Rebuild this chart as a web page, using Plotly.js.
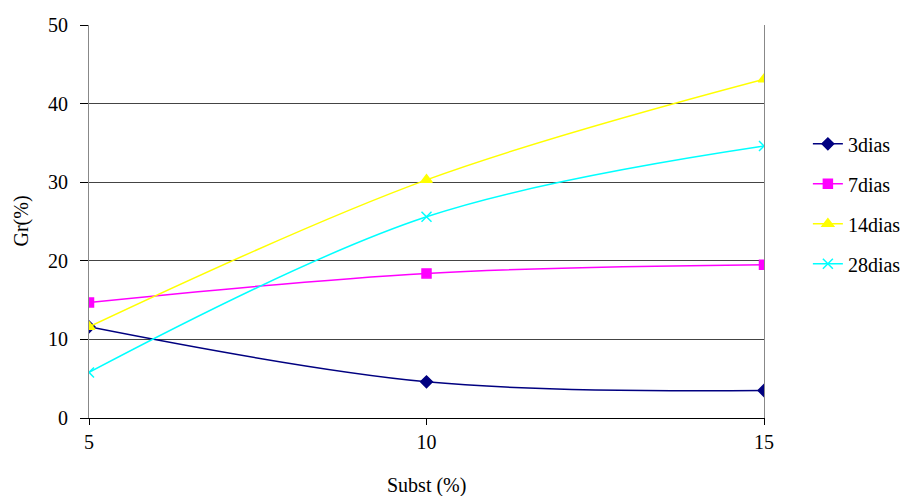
<!DOCTYPE html>
<html>
<head>
<meta charset="utf-8">
<script src="https://cdn.plot.ly/plotly-3.0.1.min.js"></script>
<style>
html,body{margin:0;padding:0;background:#fff;}
#chart{width:914px;height:496px;}
</style>
</head>
<body>
<div id="chart"></div>
<script>
const subst = [5, 10, 15];
const dias3 = [11.6, 4.6, 3.5];
const dias7 = [14.7, 18.4, 19.5];
const dias14 = [11.6, 30.3, 43.1];
const dias28 = [5.8, 25.6, 34.6];
const seriesNames = ["3dias", "7dias", "14dias", "28dias"];

const colors = ["#000080", "#FF00FF", "#FFFF00", "#00FFFF"];
const symbols = ["diamond", "square", "triangle-up", "x-thin"];
const sizes = [9, 9, 10, 10];
const data = [dias3, dias7, dias14, dias28].map((ys, i) => ({
  x: subst, y: ys, name: seriesNames[i], type: "scatter", mode: "lines+markers",
  legendgroup: "g" + i,
  line: {color: colors[i], width: 1.5, shape: "spline", smoothing: 1},
  marker: {symbol: symbols[i], size: sizes[i], color: colors[i], line: {color: colors[i], width: 1.5}}
}));

const FONT = "Liberation Serif";
const TFONT = "Times New Roman";
const layout = {
  width: 914, height: 496,
  margin: {l: 89, r: 150, t: 25, b: 78, autoexpand: false},
  paper_bgcolor: "#fff", plot_bgcolor: "#fff",
  font: {family: TFONT, size: 20, color: "#000"},
  showlegend: true,
  legend: {x: 1.065, xanchor: "left", y: 0.545, yanchor: "middle", xref: "paper",
           font: {family: TFONT, size: 20}, tracegroupgap: 11, bgcolor: "rgba(0,0,0,0)"},
  xaxis: {
    range: [5, 15], tickvals: [5, 10, 15], ticktext: ["5", "10", "15"],
    showgrid: false, zeroline: false, showline: true, linecolor: "#000", linewidth: 1,
    ticks: "outside", ticklen: 6, tickcolor: "#000",
    tickfont: {family: TFONT, size: 20}
  },
  yaxis: {
    range: [0, 50], dtick: 10, showgrid: true, gridcolor: "#444", gridwidth: 1,
    zeroline: false, showline: true, mirror: true, linecolor: "#888", linewidth: 1,
    ticks: "outside", ticklen: 8, tickcolor: "#000", ticklabelstandoff: 8,
    tickfont: {family: TFONT, size: 20}
  },
  annotations: [
    {text: "Subst (%)", xref: "paper", yref: "paper", x: 0.5, y: 0, yshift: -67,
     xanchor: "center", yanchor: "middle", showarrow: false,
     font: {family: FONT, size: 20, color: "#000"}},
    {text: "Gr(%)", xref: "paper", yref: "paper", x: 0, y: 0.5, xshift: -68,
     xanchor: "center", yanchor: "middle", textangle: -90, showarrow: false,
     font: {family: FONT, size: 20, color: "#000"}}
  ]
};
Plotly.newPlot("chart", data, layout, {displayModeBar: false, staticPlot: true});
</script>
</body>
</html>
